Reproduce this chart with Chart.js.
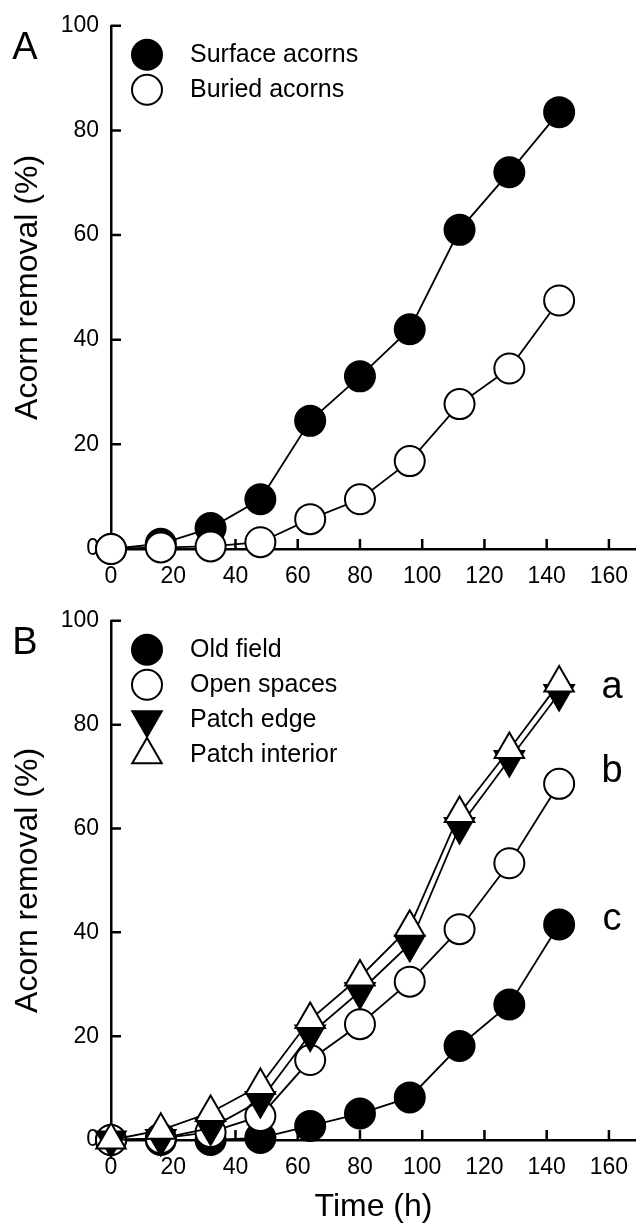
<!DOCTYPE html>
<html>
<head>
<meta charset="utf-8">
<script src="https://cdn.jsdelivr.net/npm/chart.js@4.4.1/dist/chart.umd.min.js"></script>
<style>
  html, body { margin: 0; padding: 0; background: #fff; overflow: hidden; }
  #wrap { position: relative; width: 636px; height: 1226px; }
  canvas { position: absolute; left: 0; }
  #chartA { top: 0; }
  #chartB { top: 595px; }
</style>
</head>
<body>
<div id="wrap">
  <canvas id="chartA" width="636" height="595"></canvas>
  <canvas id="chartB" width="636" height="631"></canvas>
</div>
<script>
// data
const hours = [0, 16, 32, 48, 64, 80, 96, 112, 128, 144];

// panel A
const surfaceAcorns = [0, 1, 4, 9.5, 24.5, 33, 42, 61, 72, 83.5];
const buriedAcorns = [0, 0.3, 0.5, 1.3, 5.7, 9.5, 16.8, 27.7, 34.5, 47.5];

// panel B
const oldField = [0, 0, 0, 0.4, 2.7, 5.1, 8.2, 18.1, 26.1, 41.5];
const openSpaces = [0, 0.3, 1.5, 4.6, 15.4, 22.3, 30.5, 40.6, 53.3, 68.6];
const patchEdge = [0, 0.3, 2.3, 7.6, 20.4, 28.6, 37.7, 60.4, 73.3, 86];
const patchInterior = [0, 1.9, 5.3, 10.5, 23.2, 31.4, 41, 62.9, 75.2, 88];

// significance letters in panel B
const groupLetters = ['a', 'b', 'c'];
const letterLevels = [87.2, 70.9, 42.5];

const xTickValues = [0, 20, 40, 60, 80, 100, 120, 140, 160];

const FONT = "'Liberation Sans', Arial, sans-serif";

function toXY(values) {
    return values.map((v, i) => ({ x: hours[i], y: v }));
}

// draws one legend marker by hand
function drawMarker(ctx, style, x, y, fill) {
    ctx.beginPath();
    if (style === 'circle') {
        ctx.arc(x, y, 15, 0, Math.PI * 2);
    } else {
        const r = 17;
        const dir = style === 'down' ? -1 : 1;
        ctx.moveTo(x, y - dir * r);
        ctx.lineTo(x + r * Math.sin(Math.PI / 3), y + dir * r / 2);
        ctx.lineTo(x - r * Math.sin(Math.PI / 3), y + dir * r / 2);
        ctx.closePath();
    }
    ctx.fillStyle = fill;
    ctx.fill();
    ctx.lineWidth = 2;
    ctx.strokeStyle = '#000';
    ctx.stroke();
}

// tick marks pointing into the plot
const inwardTicks = {
    id: 'inwardTicks',
    beforeDatasetsDraw(chart) {
        const { ctx, scales: { x, y } } = chart;
        ctx.save();
        ctx.strokeStyle = '#000';
        ctx.lineWidth = 2.5;
        ctx.beginPath();
        x.ticks.forEach(t => {
            if (t.value === 0) return;
            const px = x.getPixelForValue(t.value);
            ctx.moveTo(px, x.top);
            ctx.lineTo(px, x.top - 10);
        });
        y.ticks.forEach(t => {
            if (t.value === 0) return;
            const py = y.getPixelForValue(t.value);
            ctx.moveTo(y.right, py);
            ctx.lineTo(y.right + 10, py);
        });
        ctx.stroke();
        ctx.restore();
    }
};

// legend box, panel letter and group letters
const decorations = {
    id: 'decorations',
    afterDraw(chart, args, opts) {
        const { ctx, chartArea } = chart;
        ctx.save();
        ctx.fillStyle = '#000';
        ctx.textBaseline = 'middle';

        ctx.font = '38px ' + FONT;
        ctx.textAlign = 'center';
        ctx.fillText(opts.panel, 25, chartArea.top + 23);

        opts.items.forEach((item, i) => {
            const yy = chartArea.top + 29 + i * 35;
            drawMarker(ctx, item.style, chartArea.left + 36, yy, item.fill);
            ctx.fillStyle = '#000';
            ctx.font = '25px ' + FONT;
            ctx.textAlign = 'left';
            ctx.fillText(item.label, chartArea.left + 79, yy);
        });

        if (opts.letters) {
            const { x, y } = chart.scales;
            ctx.font = '38px ' + FONT;
            ctx.textAlign = 'center';
            ctx.fillStyle = '#000';
            opts.letters.forEach((l, i) => {
                ctx.fillText(l, x.getPixelForValue(161), y.getPixelForValue(opts.levels[i]));
            });
        }
        ctx.restore();
    }
};

function lineSet(label, values, style, fill, order) {
    return {
        label,
        data: toXY(values),
        borderColor: '#000',
        borderWidth: 1.8,
        backgroundColor: fill,
        pointStyle: style === 'circle' ? 'circle' : 'triangle',
        pointRotation: style === 'down' ? 180 : 0,
        pointRadius: style === 'circle' ? 15 : 17,
        pointBorderWidth: 2,
        pointBorderColor: '#000',
        pointBackgroundColor: fill,
        tension: 0,
        clip: false,
        order
    };
}

function makeOptions(panel, items, xHeight, topPad, showXTitle, letters) {
    return {
        responsive: false,
        animation: false,
        layout: { autoPadding: false, padding: { top: topPad, right: 0, left: 0, bottom: 0 } },
        plugins: {
            legend: { display: false },
            tooltip: { enabled: false },
            decorations: { panel, items, letters: letters ? groupLetters : null, levels: letterLevels }
        },
        scales: {
            x: {
                type: 'linear',
                min: 0,
                max: 168.7,
                afterBuildTicks: s => { s.ticks = xTickValues.map(v => ({ value: v })); },
                afterFit: s => { s.height = xHeight; s.paddingLeft = 0; s.paddingRight = 0; },
                grid: { display: false, drawTicks: false },
                border: { display: true, color: '#000', width: 2.5 },
                ticks: { color: '#000', padding: 14, font: { family: FONT, size: 23 }, maxRotation: 0 },
                title: {
                    display: showXTitle,
                    text: 'Time (h)',
                    color: '#000',
                    font: { family: FONT, size: 32 },
                    padding: { top: 0, bottom: 0 }
                }
            },
            y: {
                min: 0,
                max: 100,
                afterFit: s => { s.width = 111; },
                grid: { display: false, drawTicks: false },
                border: { display: true, color: '#000', width: 2.5 },
                ticks: { stepSize: 20, color: '#000', padding: 12, font: { family: FONT, size: 23 } },
                title: {
                    display: true,
                    text: 'Acorn removal (%)',
                    color: '#000',
                    font: { family: FONT, size: 32 },
                    padding: { top: 9, bottom: 0 }
                }
            }
        }
    };
}

new Chart(document.getElementById('chartA'), {
    type: 'line',
    data: {
        datasets: [
            lineSet('Surface acorns', surfaceAcorns, 'circle', '#000', 2),
            lineSet('Buried acorns', buriedAcorns, 'circle', '#fff', 1)
        ]
    },
    options: makeOptions('A', [
        { label: 'Surface acorns', style: 'circle', fill: '#000' },
        { label: 'Buried acorns', style: 'circle', fill: '#fff' }
    ], 595 - 549, 25, false, false),
    plugins: [inwardTicks, decorations]
});

new Chart(document.getElementById('chartB'), {
    type: 'line',
    data: {
        datasets: [
            lineSet('Old field', oldField, 'circle', '#000', 4),
            lineSet('Open spaces', openSpaces, 'circle', '#fff', 3),
            lineSet('Patch edge', patchEdge, 'down', '#000', 2),
            lineSet('Patch interior', patchInterior, 'up', '#fff', 1)
        ]
    },
    options: makeOptions('B', [
        { label: 'Old field', style: 'circle', fill: '#000' },
        { label: 'Open spaces', style: 'circle', fill: '#fff' },
        { label: 'Patch edge', style: 'down', fill: '#000' },
        { label: 'Patch interior', style: 'up', fill: '#fff' }
    ], 631 - 545, 20, true, true),
    plugins: [inwardTicks, decorations]
});
</script>
</body>
</html>
